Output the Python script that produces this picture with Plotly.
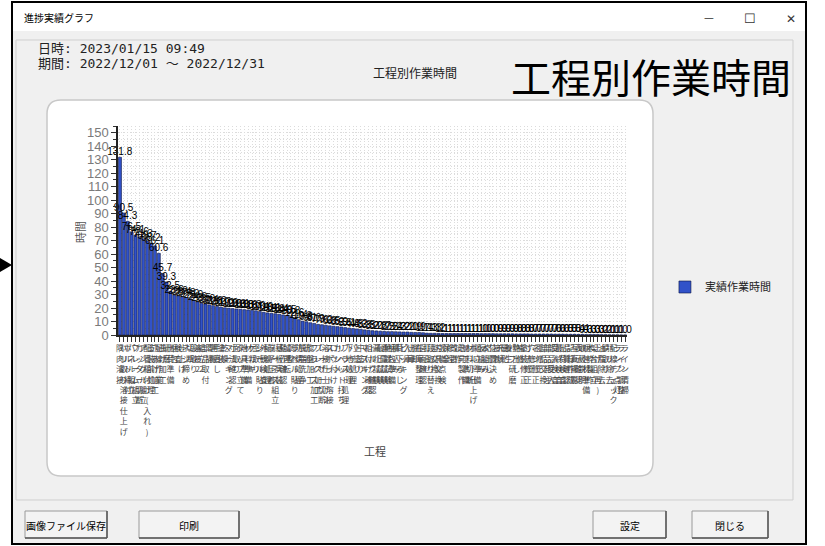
import plotly.graph_objects as go

# =========================
# データ (工程別作業時間)
# =========================
KOUTEI = [
    "隅肉溶接", "バリ取り溶接仕上げ", "ボルト締付", "パネル組立", "フレーム組立",
    "カッター切断", "アングル組立", "配管組付け(入れ)", "塗装前処理", "穴あけ加工",
    "配線作業", "曲げ加工", "研磨", "出荷準備", "梱包",
    "検査", "仕上げ", "ネジ締め", "切断", "段取り",
    "溶接2", "組立2", "部品取付", "清掃", "運搬",
    "手直し", "塗装", "乾燥", "マーキング", "寸法確認",
    "面取り", "タップ立て", "治具準備", "材料準備", "ケガキ",
    "歪取り", "シール貼り", "外観検査", "配線処理", "端子圧着",
    "ハーネス組立", "基板実装", "動作確認", "試運転", "調整",
    "ラベル貼り", "防錆処理", "脱脂洗浄", "研削", "旋盤加工",
    "フライス加工", "プレス加工", "レーザー切断", "溶接仕上げ2", "スポット溶接",
    "ロウ付け", "カシメ", "リベット打ち", "ブラスト処理", "下地処理",
    "パテ処理", "上塗り", "中塗り", "マスキング", "組付け確認",
    "トルク確認", "漏れ試験", "耐圧試験", "通電試験", "絶縁試験",
    "梱包準備", "積込み", "荷下ろし", "ピッキング", "入庫",
    "出庫", "棚卸", "在庫整理", "図面確認", "打合せ",
    "段取り替え", "型交換", "刃具交換", "設備点検", "保全",
    "修理", "改造", "試作", "治具製作", "加工準備",
    "材料切断", "ボルト仕上げ", "組立準備", "仮組み", "本組み",
    "芯出し", "位置決め", "接着", "充填", "硬化",
    "養生", "バフ研磨", "艶出し", "補修", "塗装修正",
    "寸法修正", "穴修正", "ネジ修正", "歪修正", "部品交換",
    "部品発注", "部品受入", "受入検査", "最終検査", "出荷検査",
    "品質確認", "記録作成", "写真撮影", "表示確認", "取扱説明",
    "梱包材準備", "木枠製作", "架台組立", "上げ(再)", "油脂除去",
    "錆取り", "バリ除去", "配線チェック", "ランプ点灯", "ライン調整",
    "ライン清掃",
]

JIKAN = [
    131.8, 90.5, 84.3, 76.5, 74.1, 72.6, 71.3, 69.7, 68.2, 66.1, 60.6, 45.7, 39.3, 32.5,
    29.6, 29.0, 28.4, 27.8, 27.0, 25.9, 24.6,
    23.5, 23.0, 22.4, 21.8, 21.2, 20.7, 20.2, 19.9, 19.6,
    19.3, 19.1, 18.8, 18.6, 18.3, 18.0, 17.4, 16.9,
    16.4, 16.1, 15.8, 15.4, 14.9, 14.5, 13.8, 12.6, 11.4,
    10.3, 9.8, 9.1, 8.6,
    7.9, 7.6, 7.2, 6.8, 6.5, 6.2, 5.9, 5.5, 5.1, 4.8, 4.5, 4.2, 3.8, 3.5,
    3.2, 3.0, 2.8, 2.7, 2.5, 2.5, 2.4, 2.3, 2.2, 2.2,
    2.0, 1.9, 1.9, 1.7, 1.4, 1.3, 1.3, 1.2,
    1.1, 1.1, 1.1, 1.1, 1.1, 1.1, 1.1, 1.1, 1.1, 1.1,
    1.0, 1.0, 1.0, 1.0, 0.9, 0.9, 0.9, 0.9, 0.9, 0.8, 0.8, 0.8, 0.8,
    0.7, 0.7, 0.7, 0.7, 0.7, 0.7, 0.6, 0.6, 0.6, 0.5, 0.5, 0.5,
    0.4, 0.4, 0.3, 0.3, 0.3, 0.3, 0.2, 0.2, 0.1, 0.1, 0.1, 0.0, 0.0,
]

Y_TICKS = list(range(0, 151, 10))

# =========================
# 画面まわり
# =========================
W, H = 825, 546
FONT_JP = "Noto Sans CJK JP, Noto Sans, sans-serif"
FONT_MONO = "DejaVu Sans Mono, Noto Sans CJK JP, monospace"
COR_BARRA = "#3152c9"
COR_BORDA = "#0b1545"
COR_FUNDO = "#f0f0f0"
COR_GRADE = "#dcdcdc"


def px(x):
    return x / W


def py(y):
    return 1 - y / H


def caixa(x0, y0, x1, y1, **kw):
    return dict(type="rect", xref="paper", yref="paper",
                x0=px(x0), x1=px(x1), y0=py(y1), y1=py(y0), **kw)


def caixa_redonda(x0, y0, x1, y1, r):
    X0, X1, T, B = px(x0), px(x1), py(y0), py(y1)
    rx, ry = r / W, r / H
    return (f"M {X0+rx},{T} L {X1-rx},{T} Q {X1},{T} {X1},{T-ry} "
            f"L {X1},{B+ry} Q {X1},{B} {X1-rx},{B} L {X0+rx},{B} "
            f"Q {X0},{B} {X0},{B+ry} L {X0},{T-ry} Q {X0},{T} {X0+rx},{T} Z")


def texto(x, y, s, size=12, color="black", anchor="left", family=FONT_JP, **kw):
    return dict(x=px(x), y=py(y), xref="paper", yref="paper", text=s,
                showarrow=False, xanchor=anchor, yanchor="middle",
                font=dict(family=family, size=size, color=color), **kw)


rotulos = ["<br>".join(list(k)) for k in KOUTEI]

fig = go.Figure(go.Bar(
    x=KOUTEI, y=JIKAN, name="実績作業時間",
    marker=dict(color=COR_BARRA, line=dict(color=COR_BORDA, width=0.6)),
    text=JIKAN, texttemplate="%{y:.1f}", textposition="outside",
    textangle=0, constraintext="none", cliponaxis=False,
    textfont=dict(family="Liberation Sans Narrow, Liberation Sans, Arial", size=10, color="black"),
))

shapes = [
    # janela
    caixa(12, 2, 806, 544, fillcolor=COR_FUNDO, line=dict(color="black", width=2), layer="below"),
    caixa(13, 3, 805, 31, fillcolor="white", line=dict(width=0), layer="below"),
    caixa(16, 40, 793, 500, fillcolor="rgba(0,0,0,0)", line=dict(color="#cfcfcf", width=1), layer="below"),
    dict(type="path", xref="paper", yref="paper", path=caixa_redonda(47, 100, 653, 476, 14),
         fillcolor="white", line=dict(color="#c8c8c8", width=1.5), layer="below"),
    # flecha
    dict(type="path", xref="paper", yref="paper",
         path=f"M {px(0)},{py(258)} L {px(12)},{py(265)} L {px(0)},{py(272)} Z",
         fillcolor="black", line=dict(width=0), layer="above"),
]

botoes = [("画像ファイル保存", 25, 107), ("印刷", 139, 239), ("設定", 593, 666), ("閉じる", 692, 768)]
annotations = []
for rot, a, b in botoes:
    shapes.append(caixa(a, 511, b, 538, fillcolor="#f3f3f3", line=dict(color="#9a9a9a", width=1), layer="below"))
    shapes.append(dict(type="line", xref="paper", yref="paper", x0=px(a), x1=px(b), y0=py(538), y1=py(538),
                       line=dict(color="#555555", width=1.5), layer="below"))
    shapes.append(dict(type="line", xref="paper", yref="paper", x0=px(b), x1=px(b), y0=py(511), y1=py(538),
                       line=dict(color="#555555", width=1.5), layer="below"))
    annotations.append(texto((a + b) / 2, 525, rot, size=10, anchor="center"))

annotations += [
    texto(22, 17, "進捗実績グラフ", size=10),
    texto(709, 17, "—", size=11, color="#333333", anchor="center"),
    texto(750, 17, "☐", size=13, color="#333333", anchor="center"),
    texto(791, 17, "✕", size=12, color="#333333", anchor="center"),
    texto(36, 48, "日時: 2023/01/15 09:49", size=13, color="#222222", family=FONT_MONO),
    texto(36, 63, "期間: 2022/12/01 〜 2022/12/31", size=13, color="#222222", family=FONT_MONO),
    texto(415, 73, "工程別作業時間", size=12, color="#222222", anchor="center"),
    texto(651, 76, "工程別作業時間", size=40, color="black", anchor="center"),
    texto(375, 451, "工程", size=11, color="#444444", anchor="center"),
    texto(80, 232, "時間", size=11, color="#555555", anchor="center", textangle=-90),
]

fig.update_layout(
    width=W, height=H,
    margin=dict(l=0, r=0, t=0, b=0),
    paper_bgcolor="white",
    plot_bgcolor="white",
    bargap=0.22,
    showlegend=True,
    legend=dict(x=0.806, y=py(287), xanchor="left", yanchor="middle",
                bgcolor="rgba(0,0,0,0)", font=dict(family=FONT_JP, size=11, color="#222222")),
    xaxis=dict(
        domain=[px(118), px(627)], automargin=False,
        tickmode="array", tickvals=KOUTEI, ticktext=rotulos, tickangle=0,
        tickfont=dict(family=FONT_JP, size=8, color="#444444"),
        ticks="outside", ticklen=5, tickcolor="#333333",
        showline=True, linecolor="#222222", linewidth=1.5,
        showgrid=True, gridcolor=COR_GRADE, griddash="1px,2px", gridwidth=1,
    ),
    yaxis=dict(
        domain=[py(335), py(126)], automargin=False,
        range=[0, 155], tickmode="array", tickvals=Y_TICKS,
        tickfont=dict(family="Liberation Sans, Arial", size=13, color="#7a7a7a"),
        ticks="outside", ticklen=5, tickcolor="#333333",
        showline=True, linecolor="#222222", linewidth=1.5,
        showgrid=True, gridcolor=COR_GRADE, griddash="1px,2px", gridwidth=1,
        minor=dict(dtick=5, showgrid=True, gridcolor=COR_GRADE, griddash="1px,2px",
                   ticks="outside", ticklen=3, tickcolor="#333333"),
        zeroline=False,
    ),
    shapes=shapes,
    annotations=annotations,
)

# a página tem margem de 8px no body; zera para casar com a janela
fig.write_html("out.html", config={"displayModeBar": False},
               post_script="document.body.style.margin='0';")
